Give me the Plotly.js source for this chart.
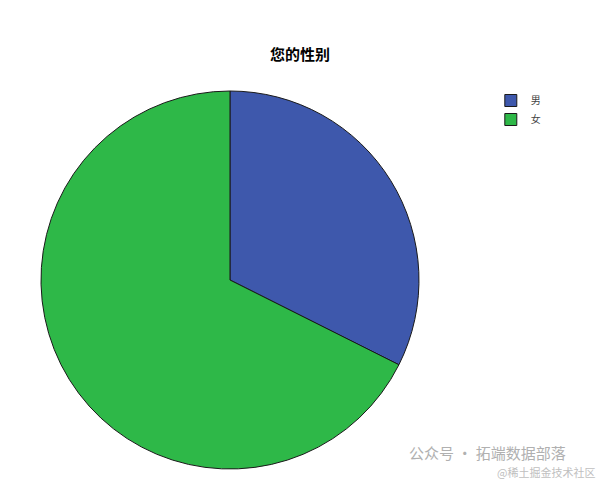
<!DOCTYPE html>
<html>
<head>
<meta charset="utf-8">
<script src="https://cdn.plot.ly/plotly-3.0.1.min.js"></script>
<style>html,body{margin:0;padding:0;background:#fff;}#chart{width:600px;height:480px;}</style>
</head>
<body>
<div id="chart"></div>
<script>
const categories = ["男", "女"];
const values = [32.4, 67.6];
const colors = ["#3E58AC", "#2EB848"];
const titleText = "您的性别";

const data = [{
  type: "pie",
  labels: categories,
  values: values,
  sort: false,
  direction: "clockwise",
  rotation: 0,
  textinfo: "none",
  hoverinfo: "label+percent",
  marker: { colors: colors, line: { color: "#1a1a1a", width: 1 } },
  domain: { x: [0.0683, 0.6983], y: [0.0229, 0.8104] }
}];

const layout = {
  width: 600, height: 480,
  margin: { l: 0, r: 0, t: 0, b: 0 },
  paper_bgcolor: "#ffffff",
  font: { family: "Noto Sans CJK SC, sans-serif", color: "#000" },
  title: { text: "<b>" + titleText + "</b>", x: 0.5, xanchor: "center", y: 1 - 55/480, yanchor: "middle",
           font: { size: 15, family: "Noto Sans CJK SC", color: "#000" } },
  showlegend: true,
  legend: { x: 0.818, y: 1 - 86/480, xanchor: "left", yanchor: "top",
            font: { size: 10, family: "Noto Sans CJK SC", color: "#444" },
            tracegroupgap: 0, itemwidth: 30, bgcolor: "rgba(0,0,0,0)" },
  annotations: [
    { text: "公众号 · 拓端数据部落", x: 407/600, y: 1 - 452/480, xref: "paper", yref: "paper",
      xanchor: "left", yanchor: "middle", showarrow: false,
      font: { size: 15, family: "Noto Sans CJK SC", color: "#b0b0b0" } },
    { text: "@稀土掘金技术社区", x: 597/600, y: 1 - 472/480, xref: "paper", yref: "paper",
      xanchor: "right", yanchor: "middle", showarrow: false,
      font: { size: 11, family: "Noto Sans CJK SC", color: "#c0c0c0" } }
  ]
};

Plotly.newPlot("chart", data, layout, { displayModeBar: false, staticPlot: true });
</script>
</body>
</html>
